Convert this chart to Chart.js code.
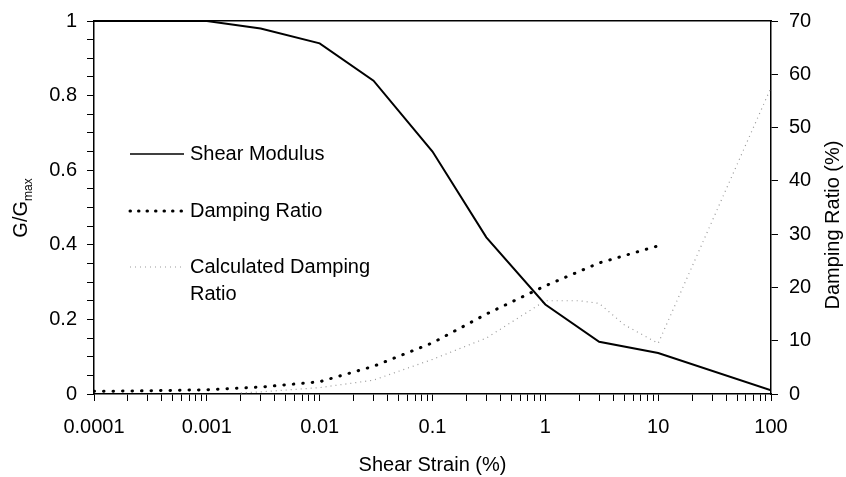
<!DOCTYPE html>
<html>
<head>
<meta charset="utf-8">
<script src="https://cdn.jsdelivr.net/npm/chart.js@4.4.1/dist/chart.umd.min.js"></script>
<style>
  body { margin: 0; background: #fff; }
  #wrap { width: 846px; height: 477px; }
</style>
</head>
<body>
<div id="wrap"><canvas id="chart" width="846" height="477"></canvas></div>
<script>
// shear modulus curve (G/Gmax, left axis)
var modulusStrain = [0.0001, 0.001, 0.003, 0.01, 0.03, 0.1, 0.3, 1, 3, 10, 100];
var modulusValues = [1, 1, 0.98, 0.94, 0.84, 0.65, 0.42, 0.24, 0.14, 0.11, 0.01];

// damping ratio (%), right axis
var dampingStrain = [0.0001, 0.0003, 0.001, 0.003, 0.01, 0.03, 0.1, 0.3, 1, 3, 10];
var dampingValues = [0.5, 0.6, 0.8, 1.3, 2.3, 5.2, 9.6, 15, 20.3, 24.6, 27.8];

// calculated damping ratio (%), right axis
var calcStrain = [0.002, 0.003, 0.01, 0.03, 0.1, 0.3, 1, 2, 3, 5, 10, 100];
var calcValues = [0.2, 0.4, 1.2, 2.6, 6.5, 10.5, 17.5, 17.5, 17, 13, 9.5, 57.5];

var xTickLabels = ['0.0001', '0.001', '0.01', '0.1', '1', '10', '100'];
var yLeftLabels = ['0', '0.2', '0.4', '0.6', '0.8', '1'];
var yRightLabels = ['0', '10', '20', '30', '40', '50', '60', '70'];

var FONT = "'Liberation Sans', Arial, sans-serif";

function toPoints(xs, ys) {
  return xs.map(function (x, i) { return { x: x, y: ys[i] }; });
}

// fixed box sizes so the plot area sits where it does in the picture
function fixWidth(w) {
  return function (scale) {
    scale.width = w;
    scale.paddingTop = 0;
    scale.paddingBottom = 0;
  };
}
function fixHeight(h) {
  return function (scale) {
    scale.height = h;
    scale.paddingLeft = 0;
    scale.paddingRight = 0;
  };
}

// text drawn inside the plot: legend and the two rotated axis titles
var textPlugin = {
  id: 'textPlugin',
  afterDraw: function (chart) {
    var ctx = chart.ctx;
    ctx.save();
    ctx.fillStyle = '#000';
    ctx.textBaseline = 'middle';
    ctx.font = '20px ' + FONT;

    var items = [
      { y: 154, color: '#000', width: 1.5, dash: [], cap: 'butt', text: ['Shear Modulus'] },
      { y: 211, color: '#000', width: 3, dash: [0.5, 8], cap: 'round', text: ['Damping Ratio'] },
      { y: 267, color: '#999', width: 1.2, dash: [1, 4], cap: 'butt', text: ['Calculated Damping', 'Ratio'] }
    ];
    items.forEach(function (it) {
      ctx.beginPath();
      ctx.strokeStyle = it.color;
      ctx.lineWidth = it.width;
      ctx.lineCap = it.cap;
      ctx.setLineDash(it.dash);
      ctx.moveTo(130, it.y);
      ctx.lineTo(184, it.y);
      ctx.stroke();
      it.text.forEach(function (t, k) {
        ctx.fillText(t, 190, it.y + k * 27);
      });
    });
    ctx.setLineDash([]);

    // left title G/Gmax
    ctx.save();
    ctx.translate(21, 208);
    ctx.rotate(-Math.PI / 2);
    ctx.font = '20px ' + FONT;
    var w1 = ctx.measureText('G/G').width;
    ctx.font = '12px ' + FONT;
    var w2 = ctx.measureText('max').width;
    var start = -(w1 + w2) / 2;
    ctx.font = '20px ' + FONT;
    ctx.textAlign = 'left';
    ctx.fillText('G/G', start, 0);
    ctx.font = '12px ' + FONT;
    ctx.fillText('max', start + w1, 8);
    ctx.restore();

    // right title
    ctx.save();
    ctx.translate(833, 225);
    ctx.rotate(-Math.PI / 2);
    ctx.textAlign = 'center';
    ctx.font = '20px ' + FONT;
    ctx.fillText('Damping Ratio (%)', 0, 0);
    ctx.restore();

    ctx.restore();
  }
};

var ctx = document.getElementById('chart').getContext('2d');

new Chart(ctx, {
  type: 'line',
  data: {
    datasets: [{
      label: 'Shear Modulus',
      data: toPoints(modulusStrain, modulusValues),
      borderColor: '#000',
      borderWidth: 2,
      pointRadius: 0,
      xAxisID: 'x',
      yAxisID: 'y'
    }, {
      label: 'Damping Ratio',
      data: toPoints(dampingStrain, dampingValues),
      borderColor: '#000',
      borderWidth: 3,
      borderDash: [0.5, 9],
      borderCapStyle: 'round',
      pointRadius: 0,
      xAxisID: 'x',
      yAxisID: 'y2'
    }, {
      label: 'Calculated Damping Ratio',
      data: toPoints(calcStrain, calcValues),
      borderColor: '#999',
      borderWidth: 1.2,
      borderDash: [1, 4],
      pointRadius: 0,
      xAxisID: 'x',
      yAxisID: 'y2'
    }]
  },
  options: {
    responsive: false,
    animation: false,
    layout: { padding: 0 },
    plugins: {
      legend: { display: false },
      tooltip: { enabled: false }
    },
    scales: {
      x: {
        type: 'logarithmic',
        position: 'bottom',
        min: 0.0001,
        max: 100,
        afterBuildTicks: function (scale) {
          var ticks = [];
          for (var e = -4; e <= 2; e++) {
            for (var m = 1; m <= 9; m++) {
              var v = m * Math.pow(10, e);
              if (v > 100.0001) break;
              ticks.push({ value: v });
            }
          }
          scale.ticks = ticks;
        },
        afterFit: fixHeight(83),
        ticks: {
          autoSkip: false,
          maxRotation: 0,
          padding: 14,
          color: '#000',
          font: { family: FONT, size: 20 },
          callback: function (value) {
            var e = Math.round(Math.log10(value));
            if (Math.abs(value - Math.pow(10, e)) < 1e-9) return xTickLabels[e + 4];
            return '';
          }
        },
        grid: { drawOnChartArea: false, drawTicks: true, tickLength: 7, color: '#000', lineWidth: 1 },
        border: { display: true, color: '#000', width: 1.5 },
        title: {
          display: true,
          text: 'Shear Strain (%)',
          color: '#000',
          font: { family: FONT, size: 20 },
          padding: { top: 0, bottom: 0 }
        }
      },
      xTop: {
        type: 'logarithmic',
        position: 'top',
        min: 0.0001,
        max: 100,
        afterFit: fixHeight(21),
        ticks: { display: false },
        grid: { display: false },
        border: { display: true, color: '#000', width: 1.5 }
      },
      y: {
        type: 'linear',
        position: 'left',
        min: 0,
        max: 1,
        afterFit: fixWidth(94),
        ticks: {
          stepSize: 0.05,
          autoSkip: false,
          padding: 10,
          color: '#000',
          font: { family: FONT, size: 20 },
          callback: function (value) {
            var i = Math.round(value / 0.05);
            return i % 4 === 0 ? yLeftLabels[i / 4] : '';
          }
        },
        grid: { drawOnChartArea: false, drawTicks: true, tickLength: 7, color: '#000', lineWidth: 1 },
        border: { display: true, color: '#000', width: 1.5 }
      },
      y2: {
        type: 'linear',
        position: 'right',
        min: 0,
        max: 70,
        afterFit: fixWidth(75),
        ticks: {
          stepSize: 10,
          padding: 11,
          color: '#000',
          font: { family: FONT, size: 20 },
          callback: function (value) {
            return yRightLabels[Math.round(value / 10)];
          }
        },
        grid: { drawOnChartArea: false, drawTicks: true, tickLength: 7, color: '#000', lineWidth: 1 },
        border: { display: true, color: '#000', width: 1.5 }
      }
    }
  },
  plugins: [textPlugin]
});
</script>
</body>
</html>
